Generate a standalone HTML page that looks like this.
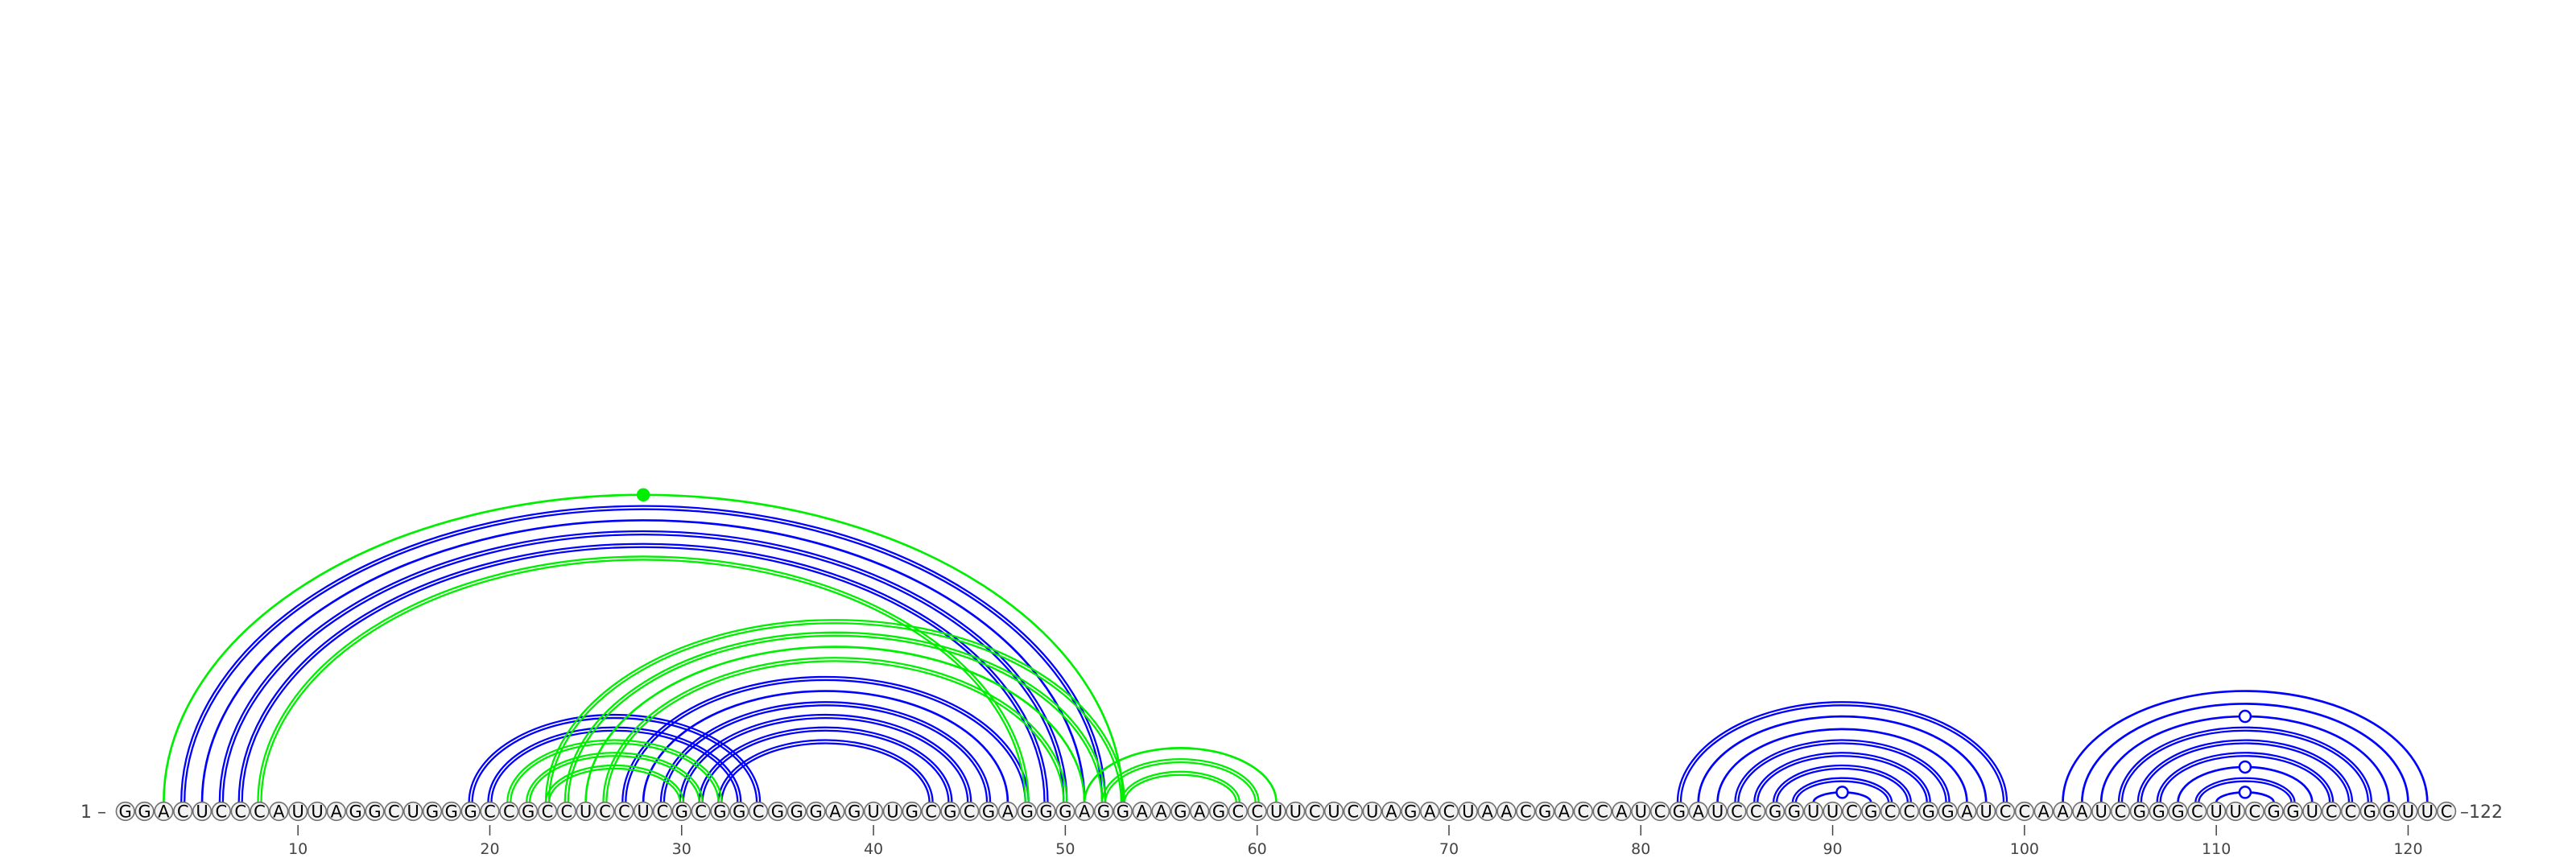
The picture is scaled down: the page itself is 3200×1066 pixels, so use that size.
<!DOCTYPE html>
<html><head><meta charset="utf-8"><style>
html,body{margin:0;padding:0;background:#fff;}
svg{display:block;font-family:"DejaVu Sans","Liberation Sans",sans-serif;}
</style></head><body>
<svg id="chart" width="3200" height="1066" viewBox="0 0 3200 1066" xmlns="http://www.w3.org/2000/svg">
<g id="arcs"></g>
<g id="markers"></g>
<g id="bases"></g>
<g id="ticks"></g>
<text x="132" y="1016" font-size="22" fill="#444" text-anchor="end">1 –</text>
<text x="3056" y="1016" font-size="22" fill="#444">–122</text>
</svg>
<script>
const sequence = "GGACUCCCAUUAGGCUGGGCCGCCUCCUCGCGGCGGGAGUUGCGCGAGGGAGGAAGAGCCUUCUCUAGACUAACGACCAUCGAUCCGGUUCGCCGGAUCCAAAUCGGGCUUCGGUCCGGUUC";
// pairs: [i, j, double(1/0)]
const bluePairs = [
 [4,52,1],[5,51,0],[6,50,1],[7,49,1],
 [19,34,1],[20,33,1],
 [27,48,1],[28,47,0],[29,46,1],[30,45,1],[31,44,1],[32,43,1],
 [82,99,1],[83,98,0],[84,97,0],[85,96,1],[86,95,1],[87,94,1],[88,93,1],[89,92,0],
 [102,121,0],[103,120,0],[104,119,0],[105,118,1],[106,117,1],[107,116,1],[108,115,0],[109,114,1],[110,113,0]
];
const greenPairs = [
 [3,53,0],[8,48,1],
 [21,32,1],[22,31,1],[23,30,1],
 [23,53,1],[24,52,1],[25,51,0],[26,50,1],
 [51,61,0],[52,60,1],[53,59,1]
];
const filledMarkers = [[3,53]];
const openMarkers = [[89,92],[104,119],[108,115],[110,113]];
const tickValues = [10,20,30,40,50,60,70,80,90,100,110,120];

const NS = "http://www.w3.org/2000/svg";
const x0 = 155.7, dx = 23.83, baseY = 1008, r = 12, ratio = 0.66;
const X = i => x0 + (i - 1) * dx;
const H = (i, j) => ratio * (j - i) / 2 * dx;
const arcs = document.getElementById('arcs');
function arcPath(i, j, off) {
  const x1 = X(i) - off, x2 = X(j) + off;
  const rx = (x2 - x1) / 2;
  const ry = H(i, j) + off - (r - 1);
  const y = baseY - r + 1;
  return `M${x1},${y} A${rx},${ry} 0 0 1 ${x2},${y}`;
}
function drawPairs(list, color, name) {
  list.forEach(p => {
    const offs = p[2] ? [-2, 2] : [0];
    offs.forEach(o => {
      const path = document.createElementNS(NS, 'path');
      
      
      path.setAttribute('d', arcPath(p[0], p[1], o));
      path.setAttribute('fill', 'none');
      path.setAttribute('stroke', color);
      path.setAttribute('stroke-width', p[2] ? 2.3 : 2.7);
      arcs.appendChild(path);
    });
  });
}
drawPairs(bluePairs, '#0000ff', 'blue-arc');
drawPairs(greenPairs, '#00ee00', 'green-arc');

const markers = document.getElementById('markers');
function marker(p, fill, stroke) {
  const c = document.createElementNS(NS, 'circle');
  
  
  c.setAttribute('cx', (X(p[0]) + X(p[1])) / 2);
  c.setAttribute('cy', baseY - H(p[0], p[1]));
  c.setAttribute('r', 7);
  c.setAttribute('fill', fill);
  c.setAttribute('stroke', stroke);
  c.setAttribute('stroke-width', 2.5);
  markers.appendChild(c);
}
filledMarkers.forEach(p => marker(p, '#00ee00', '#00ee00'));
openMarkers.forEach(p => marker(p, '#ffffff', '#0000ff'));

const bases = document.getElementById('bases');
for (let i = 1; i <= sequence.length; i++) {
  const c = document.createElementNS(NS, 'circle');
  
  
  c.setAttribute('cx', X(i)); c.setAttribute('cy', baseY); c.setAttribute('r', r - 0.7);
  c.setAttribute('fill', '#f2f2f2'); c.setAttribute('stroke', '#707070'); c.setAttribute('stroke-width', 1.6);
  bases.appendChild(c);
  const t = document.createElementNS(NS, 'text');
  
  
  t.setAttribute('x', X(i)); t.setAttribute('y', baseY + 7.5);
  t.setAttribute('text-anchor', 'middle'); t.setAttribute('font-size', '21');
  t.setAttribute('fill', '#000');
  t.textContent = sequence[i - 1];
  bases.appendChild(t);
}
const ticks = document.getElementById('ticks');
tickValues.forEach(v => {
  const l = document.createElementNS(NS, 'line');
  
  
  l.setAttribute('x1', X(v)); l.setAttribute('x2', X(v));
  l.setAttribute('y1', 1025); l.setAttribute('y2', 1038);
  l.setAttribute('stroke', '#444'); l.setAttribute('stroke-width', 1.5);
  ticks.appendChild(l);
  const t = document.createElementNS(NS, 'text');
  
  
  t.setAttribute('x', X(v)); t.setAttribute('y', 1061);
  t.setAttribute('text-anchor', 'middle'); t.setAttribute('font-size', '19');
  t.setAttribute('fill', '#444');
  t.textContent = v;
  ticks.appendChild(t);
});
</script>
</body></html>
